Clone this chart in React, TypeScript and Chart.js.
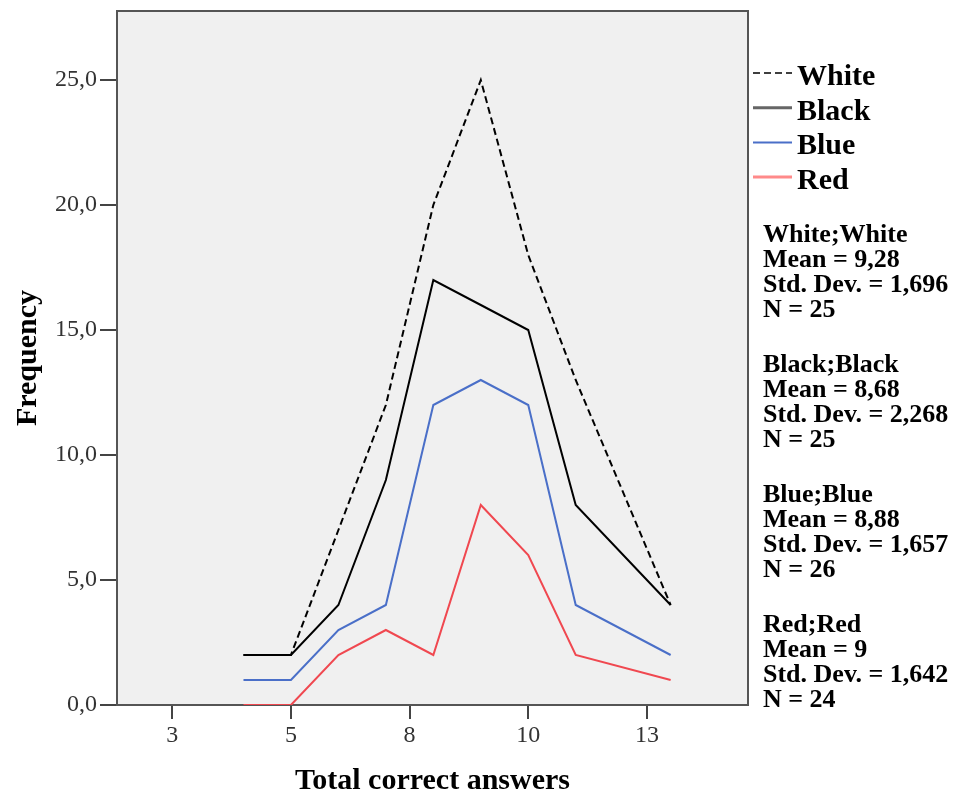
import React, { useEffect, useRef } from 'react';
import { Chart, registerables } from 'chart.js';

Chart.register(...registerables);

// ---- data ----
const xValues = [4, 5, 6, 7, 8, 9, 10, 11, 13];
const whiteFreq = [2, 2, 7, 12, 20, 25, 18, 13, 4];
const blackFreq = [2, 2, 4, 9, 17, 16, 15, 8, 4];
const blueFreq = [1, 1, 3, 4, 12, 13, 12, 4, 2];
const redFreq = [0, 0, 2, 3, 2, 8, 6, 2, 1];

const seriesNames = ['White', 'Black', 'Blue', 'Red'];

const xTickValues = [2.5, 5, 7.5, 10, 12.5];
const xTickLabels = ['3', '5', '8', '10', '13'];
const yTickValues = [0, 5, 10, 15, 20, 25];
const yTickLabels = ['0,0', '5,0', '10,0', '15,0', '20,0', '25,0'];

const xTitle = 'Total correct answers';
const yTitle = 'Frequency';

const whiteStats = ['White;White', 'Mean = 9,28', 'Std. Dev. = 1,696', 'N = 25'];
const blackStats = ['Black;Black', 'Mean = 8,68', 'Std. Dev. = 2,268', 'N = 25'];
const blueStats = ['Blue;Blue', 'Mean = 8,88', 'Std. Dev. = 1,657', 'N = 26'];
const redStats = ['Red;Red', 'Mean = 9', 'Std. Dev. = 1,642', 'N = 24'];

const SERIF = '"Liberation Serif", "Times New Roman", serif';

const toPoints = (ys: number[]) => xValues.map((x, i) => ({ x, y: ys[i] }));

// legend sample styles (as they appear in the reference legend)
const legendColors = ['#000000', '#666666', '#4a6fc8', '#ff8a8a'];
const legendWidths = [1.5, 3, 2, 3];

const decorPlugin = {
  id: 'decor',
  beforeDraw(chart: any) {
    const { ctx, chartArea } = chart;
    const { left, top, right, bottom } = chartArea;
    ctx.save();
    ctx.fillStyle = '#ffffff';
    ctx.fillRect(0, 0, chart.width, chart.height);
    ctx.fillStyle = '#f0f0f0';
    ctx.fillRect(left, top, right - left, bottom - top);
    ctx.restore();
  },
  beforeDatasetsDraw(chart: any) {
    const { ctx, chartArea } = chart;
    const { left, top, right, bottom } = chartArea;
    ctx.save();
    ctx.strokeStyle = '#555555';
    ctx.lineWidth = 2;
    ctx.beginPath();
    ctx.moveTo(left, bottom);
    ctx.lineTo(left, top);
    ctx.lineTo(right, top);
    ctx.lineTo(right, bottom);
    ctx.stroke();
    ctx.restore();
  },
  afterDraw(chart: any) {
    const { ctx } = chart;
    ctx.save();
    // legend
    const dsList = chart.data.datasets;
    ctx.font = `bold 30px ${SERIF}`;
    ctx.textBaseline = 'alphabetic';
    ctx.textAlign = 'left';
    dsList.forEach((ds: any, i: number) => {
      const ly = 73 + 34.7 * i;
      ctx.strokeStyle = legendColors[i];
      ctx.lineWidth = legendWidths[i];
      ctx.setLineDash(ds.borderDash || []);
      ctx.beginPath();
      ctx.moveTo(753, ly);
      ctx.lineTo(792, ly);
      ctx.stroke();
      ctx.setLineDash([]);
      ctx.fillStyle = '#000000';
      ctx.fillText(ds.label, 797, 85 + 34.5 * i);
    });
    // stats
    const groups = [whiteStats, blackStats, blueStats, redStats];
    ctx.font = `bold 26px ${SERIF}`;
    ctx.fillStyle = '#000000';
    groups.forEach((lines, g) => {
      lines.forEach((t, l) => {
        ctx.fillText(t, 763, 242 + 130 * g + 25 * l);
      });
    });
    ctx.restore();
  },
};

export default function App() {
  const ref = useRef<HTMLCanvasElement | null>(null);

  useEffect(() => {
    const canvas = ref.current;
    if (!canvas) return;
    const chart = new Chart(canvas, {
      type: 'line',
      data: {
        datasets: [
          {
            label: seriesNames[0],
            data: toPoints(whiteFreq),
            borderColor: '#000000',
            borderWidth: 2,
            borderDash: [7, 4],
            pointRadius: 0,
            fill: false,
            tension: 0,
          },
          {
            label: seriesNames[1],
            data: toPoints(blackFreq),
            borderColor: '#000000',
            borderWidth: 2,
            pointRadius: 0,
            fill: false,
            tension: 0,
          },
          {
            label: seriesNames[2],
            data: toPoints(blueFreq),
            borderColor: '#4a6fc8',
            borderWidth: 2,
            pointRadius: 0,
            fill: false,
            tension: 0,
          },
          {
            label: seriesNames[3],
            data: toPoints(redFreq),
            borderColor: '#f04850',
            borderWidth: 2,
            pointRadius: 0,
            fill: false,
            tension: 0,
          },
        ],
      },
      options: {
        responsive: false,
        animation: false,
        devicePixelRatio: 1,
        layout: { padding: { left: 0, top: 11, right: 206, bottom: 0 } },
        plugins: {
          legend: { display: false },
          tooltip: { enabled: false },
        },
        scales: {
          x: {
            type: 'linear',
            min: 1.335,
            max: 14.63,
            afterBuildTicks: (scale: any) => {
              scale.ticks = xTickValues.map((v) => ({ value: v }));
            },
            afterFit: (scale: any) => {
              scale.height = 91;
              scale.paddingLeft = 0;
              scale.paddingRight = 0;
            },
            ticks: {
              autoSkip: false,
              maxRotation: 0,
              padding: 2,
              color: '#333333',
              font: { family: SERIF, size: 24 },
              callback: (_v: any, i: number) => xTickLabels[i],
            },
            grid: {
              drawOnChartArea: false,
              drawTicks: true,
              tickLength: 14,
              color: '#444444',
              lineWidth: 2,
            },
            border: { display: true, color: '#555555', width: 2 },
            title: {
              display: true,
              text: xTitle,
              color: '#000000',
              font: { family: SERIF, size: 30, weight: 'bold' },
              padding: { top: 0, bottom: -3 },
            },
          },
          y: {
            type: 'linear',
            min: 0,
            max: 27.76,
            afterBuildTicks: (scale: any) => {
              scale.ticks = yTickValues.map((v) => ({ value: v }));
            },
            afterFit: (scale: any) => {
              scale.width = 117;
              scale.paddingTop = 0;
              scale.paddingBottom = 0;
            },
            ticks: {
              autoSkip: false,
              padding: 3,
              color: '#333333',
              font: { family: SERIF, size: 24 },
              callback: (_v: any, i: number) => yTickLabels[i],
            },
            grid: {
              drawOnChartArea: false,
              drawTicks: true,
              tickLength: 17,
              color: '#444444',
              lineWidth: 2,
            },
            border: { display: true, color: '#555555', width: 2 },
            title: {
              display: true,
              text: yTitle,
              color: '#000000',
              font: { family: SERIF, size: 30, weight: 'bold' },
              padding: { top: 10, bottom: 0 },
            },
          },
        },
      },
      plugins: [decorPlugin],
    } as any);
    return () => chart.destroy();
  }, []);

  return (
    <div style={{ position: 'absolute', left: 0, top: 0, width: 954, height: 796 }}>
      <canvas ref={ref} width={954} height={796} />
    </div>
  );
}
